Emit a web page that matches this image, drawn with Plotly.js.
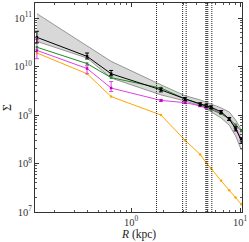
<!DOCTYPE html>
<html>
<head>
<meta charset="utf-8">
<script src="https://cdn.plot.ly/plotly-3.0.1.min.js"></script>
<style>html,body{margin:0;padding:0;background:#fff;}#chart{width:249px;height:242px;}</style>
</head>
<body>
<div id="chart"></div>
<script>
// Radii (kpc)
var radius = [0.137, 0.395, 0.656, 1.88, 3.13, 4.30, 4.88, 5.42, 6.69, 7.93, 9.09, 10.25];
// Black series (with error bars)
var blackVals = [4.0e10, 1.62e10, 7.1e9, 3.3e9, 2.15e9, 1.67e9, 1.55e9, 1.45e9, 1.16e9, 8.3e8, 5.2e8, 3.0e8];
var blackErrPlus = [1.33e10, 2.8e9, 1.2e9, 3e8, 1.5e8, 1.2e8, 1.1e8, 1.0e8, 8e7, 6e7, 5e7, 4e7];
var blackErrMinus = [0.93e10, 1.9e9, 0.64e9, 3e8, 1.5e8, 1.2e8, 1.1e8, 1.0e8, 8e7, 6e7, 5e7, 4e7];
// Green series
var greenVals = [2.5e10, 1.15e10, 5.9e9, 3.6e9, 2.15e9, 1.7e9, 1.5e9, 1.3e9, 1.06e9, 8.3e8, 6.3e8, 4.7e8];
// Magenta series (with error bars)
var magentaVals = [2.15e10, 9.1e9, 3.6e9, 2.0e9, 1.8e9, 1.55e9, 1.45e9, 1.38e9, 1.09e9, 8.3e8, 5.6e8, 3.2e8];
var magentaErrPlus = [1.44e10, 1.3e9, 1.3e9, 1e8, 8e7, 7e7, 7e7, 6e7, 5e7, 4e7, 3e7, 2e7];
var magentaErrMinus = [0.7e10, 2.0e9, 0.55e9, 1e8, 8e7, 7e7, 7e7, 6e7, 5e7, 4e7, 3e7, 2e7];
// Orange series
var orangeVals = [1.9e10, 7.1e9, 2.4e9, 1.0e9, 3.0e8, 1.54e8, 1.03e8, 7.9e7, 4.4e7, 2.8e7, 2.0e7, 1.44e7];
// Grey band
var bandUpper = [1.23e11, 2.6e10, 1.28e10, 4.2e9, 2.5e9, 2.05e9, 1.85e9, 1.7e9, 1.4e9, 1.16e9, 7.9e8, 5.0e8];
var bandLower = [3.3e10, 1.5e10, 5.8e9, 2.6e9, 1.95e9, 1.55e9, 1.35e9, 1.16e9, 8.7e8, 6.2e8, 3.7e8, 1.9e8];
// Vertical dotted lines (kpc)
var vlines = [1.71, 2.97, 3.2, 4.85, 4.95, 5.05, 5.5];
// Tick labels
var xTickVals = [1, 10];
var xTickText = ['10<sup>0</sup>', '10<sup>1</sup>'];
var yTickVals = [1e7, 1e8, 1e9, 1e10, 1e11];
var yTickText = ['10<sup>7</sup>', '10<sup>8</sup>', '10<sup>9</sup>', '10<sup>10</sup>', '10<sup>11</sup>'];

var traces = [
  {x: radius, y: bandLower, mode: 'lines', line: {color: '#808080', width: 0.8}, hoverinfo: 'skip', showlegend: false},
  {x: radius, y: bandUpper, mode: 'lines', fill: 'tonexty', fillcolor: 'rgba(190,190,190,0.6)', line: {color: '#808080', width: 0.8}, hoverinfo: 'skip', showlegend: false},
  {x: radius, y: orangeVals, mode: 'lines+markers', line: {color: '#ffa500', width: 1}, marker: {color: '#ffa500', size: 2.5, symbol: 'circle'}},
  {x: radius, y: magentaVals, mode: 'lines+markers', line: {color: '#e040e0', width: 1}, marker: {color: '#c000c0', size: 2.5, symbol: 'square'},
   error_y: {type: 'data', symmetric: false, array: magentaErrPlus, arrayminus: magentaErrMinus, color: '#e040e0', thickness: 1, width: 2}},
  {x: radius, y: greenVals, mode: 'lines+markers', line: {color: '#228b22', width: 1}, marker: {color: '#228b22', size: 2.5, symbol: 'square'}},
  {x: radius, y: blackVals, mode: 'lines+markers', line: {color: '#000000', width: 1}, marker: {color: '#000000', size: 2.5, symbol: 'square'},
   error_y: {type: 'data', symmetric: false, array: blackErrPlus, arrayminus: blackErrMinus, color: '#000000', thickness: 1, width: 2}}
];

var shapes = vlines.map(function (v) {
  return {type: 'line', xref: 'x', yref: 'paper', x0: v, x1: v, y0: 0, y1: 1,
          line: {color: '#222222', width: 1, dash: '1px,1px'}};
});

var fontSerif = 'Liberation Serif, DejaVu Serif, serif';
var axisCommon = {
  type: 'log', showgrid: false, zeroline: false, showline: true, linecolor: '#333', linewidth: 1,
  mirror: 'ticks', ticks: 'inside', ticklen: 4, tickcolor: '#333',
  tickfont: {family: fontSerif, size: 10.5, color: '#333'},
  minor: {ticks: 'inside', ticklen: 2, tickcolor: '#555', dtick: 'D1'}
};

var layout = {
  width: 249, height: 242,
  margin: {l: 35, r: 7, t: 3, b: 30},
  paper_bgcolor: '#fff', plot_bgcolor: '#fff',
  showlegend: false,
  shapes: shapes,
  annotations: [{
    text: '<i>R</i> (kpc)', xref: 'paper', yref: 'paper', x: 0.5, y: -0.108,
    xanchor: 'center', yanchor: 'middle', showarrow: false,
    font: {family: fontSerif, size: 11.5, color: '#222'}
  }],
  xaxis: Object.assign({}, axisCommon, {
    range: [Math.log10(0.1316), Math.log10(10.4)],
    tickmode: 'array', tickvals: xTickVals, ticktext: xTickText
  }),
  yaxis: Object.assign({}, axisCommon, {
    range: [7, 11.31],
    tickmode: 'array', tickvals: yTickVals, ticktext: yTickText,
    title: {text: 'Σ', font: {family: fontSerif, size: 12, color: '#222'}, standoff: 6}
  })
};

Plotly.newPlot('chart', traces, layout, {staticPlot: true, displayModeBar: false});
</script>
</body>
</html>
